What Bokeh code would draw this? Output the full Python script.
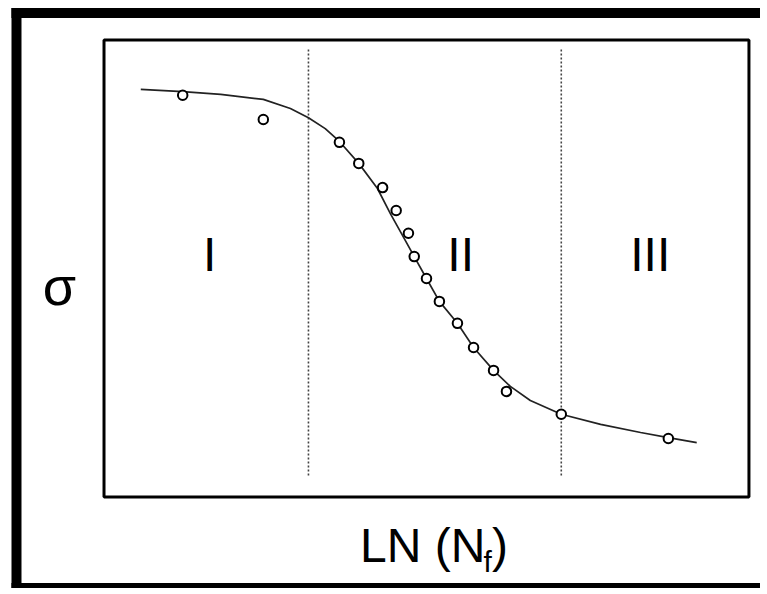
from bokeh.plotting import figure
from bokeh.models import Range1d
from bokeh.core.properties import value
from bokeh.embed import file_html
from bokeh.resources import INLINE

# ---- data (arbitrary units: LN(Nf) horizontally, sigma vertically) ----
pts_x = [1.22, 2.47, 3.65, 3.95, 4.32, 4.53, 4.72, 4.81, 5.00, 5.20, 5.48, 5.73, 6.04, 6.24, 7.09, 8.75]
pts_y = [8.79, 8.26, 7.76, 7.30, 6.77, 6.27, 5.77, 5.26, 4.78, 4.28, 3.80, 3.27, 2.77, 2.31, 1.81, 1.28]

curve_x = [0.57, 1.22, 1.81, 2.47, 2.89, 3.17, 3.43, 3.65, 3.95, 4.24, 4.44, 4.63, 4.81,
           5.00, 5.20, 5.48, 5.73, 6.04, 6.30, 6.61, 7.09, 7.70, 8.32, 8.75, 9.19]
curve_y = [8.92, 8.87, 8.81, 8.70, 8.50, 8.30, 8.06, 7.78, 7.30, 6.75, 6.20, 5.72, 5.26,
           4.78, 4.28, 3.80, 3.27, 2.77, 2.42, 2.11, 1.81, 1.59, 1.41, 1.30, 1.19]

# plot box (axes limits) and region boundaries
x_lo, x_hi = 0.0, 10.0
y_lo, y_hi = 0.0, 10.0
boundary_x = [3.17, 7.09]
boundary_y0 = [0.47, 0.47]
boundary_y1 = [9.79, 9.79]

region_labels = ["I", "II", "III"]
region_x = [1.64, 5.53, 8.47]
region_y = [5.30, 5.30, 5.30]

y_title = "σ"
x_title = ["LN (N", "f", ")"]

FONT = "Liberation Sans"

# whole picture is the plotting frame; data box sits inside it
p = figure(width=760, height=588,
           x_range=Range1d(-1.605, 10.179), y_range=Range1d(-2.003, 10.8643),
           output_backend="svg", toolbar_location=None,
           min_border=0, min_border_left=0, min_border_right=0,
           min_border_top=0, min_border_bottom=0)
p.axis.visible = False
p.grid.visible = False
p.outline_line_color = None
p.background_fill_color = "white"
p.border_fill_color = "white"

# outer picture frame (left, top and bottom edges; right edge lies outside the picture)
p.segment(x0=[-1.357, -1.435, -1.435], y0=[-2.2, 10.59, -1.99],
          x1=[-1.357, 10.4, 10.4], y1=[10.7, 10.59, -1.99],
          line_color="black", line_width=10, line_cap="butt")

# axes box
p.quad(left=[x_lo], right=[x_hi], top=[y_hi], bottom=[y_lo],
       fill_color=None, line_color="black", line_width=3)

# region boundaries
p.segment(x0=boundary_x, y0=boundary_y0, x1=boundary_x, y1=boundary_y1,
          line_color="#444444", line_width=1.6, line_dash="2 2")

# fitted curve
p.line(curve_x, curve_y, line_color="#222222", line_width=1.7)

# data points
p.scatter(pts_x, pts_y, marker="circle", size=9.5, fill_color="white",
          line_color="black", line_width=2)

# region labels
p.text(x=region_x, y=region_y, text=region_labels, text_font=value(FONT),
       text_font_size="48px", text_align="center", text_baseline="middle",
       text_color="black")

# axis titles
p.text(x=[-0.69], y=[4.62], text=[y_title], text_font=value(FONT),
       text_font_size="54px", text_align="center", text_baseline="middle",
       text_color="black")
p.text(x=[3.969], y=[-1.07], text=[x_title[0]], text_font=value(FONT),
       text_font_size="48px", text_align="left", text_baseline="middle",
       text_color="black")
p.text(x=[3.969], y=[-1.07], text=[x_title[1]], x_offset=123.5, y_offset=16,
       text_font=value(FONT), text_font_size="30px", text_align="left",
       text_baseline="middle", text_color="black")
p.text(x=[3.969], y=[-1.07], text=[x_title[2]], x_offset=132,
       text_font=value(FONT), text_font_size="48px", text_align="left",
       text_baseline="middle", text_color="black")

open("out.html", "w").write(file_html(p, INLINE))
